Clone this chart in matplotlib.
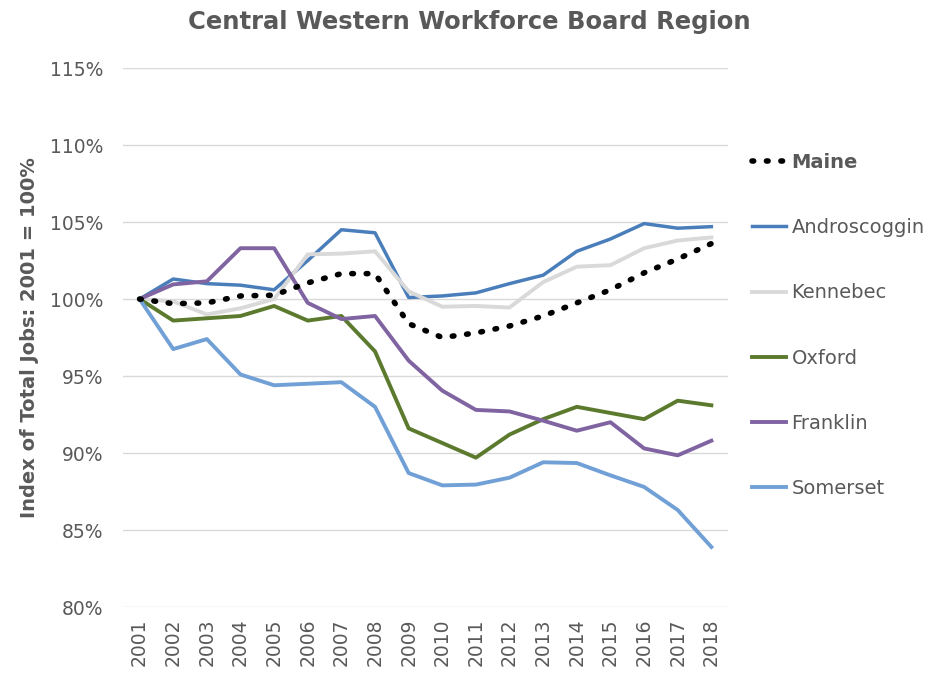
import matplotlib.pyplot as plt
from matplotlib.ticker import FuncFormatter

# Chỉ số tổng việc làm, 2001 = 100%
years = [str(y) for y in range(2001, 2019)]
maine = [100.0, 99.7, 99.75, 100.2, 100.25, 101.05, 101.65, 101.65, 98.4,
         97.5, 97.8, 98.25, 98.9, 99.75, 100.6, 101.7, 102.6, 103.6]
androscoggin = [100.0, 101.3, 101.0, 100.9, 100.6, 102.5, 104.5, 104.3, 100.1,
                100.2, 100.4, 101.0, 101.55, 103.1, 103.9, 104.9, 104.6, 104.7]
kennebec = [100.0, 99.85, 99.0, 99.4, 100.0, 102.9, 102.95, 103.1, 100.5,
            99.5, 99.55, 99.45, 101.1, 102.1, 102.2, 103.3, 103.8, 104.0]
oxford = [100.0, 98.6, 98.75, 98.9, 99.55, 98.6, 98.9, 96.6, 91.6,
          90.65, 89.7, 91.2, 92.2, 93.0, 92.6, 92.2, 93.4, 93.1]
franklin = [100.0, 100.95, 101.15, 103.3, 103.3, 99.75, 98.7, 98.9, 96.0,
            94.05, 92.8, 92.7, 92.1, 91.45, 92.0, 90.3, 89.85, 90.8]
somerset = [100.0, 96.75, 97.4, 95.1, 94.4, 94.5, 94.6, 93.0, 88.7,
            87.9, 87.95, 88.4, 89.4, 89.35, 88.55, 87.8, 86.3, 83.9]

gray = '#595959'
plt.rcParams['font.family'] = ['DejaVu Sans']

fig = plt.figure(figsize=(9.3, 6.75), dpi=100)
ax = fig.add_axes([0.132, 0.1007, 0.651, 0.7985])

x = list(range(len(years)))
ax.plot(x, maine, color='black', lw=4, linestyle=(0, (0.3, 2.3)),
        dash_capstyle='round', label='Maine', zorder=6)
ax.plot(x, androscoggin, color='#4A7EBB', lw=2.5, label='Androscoggin')
ax.plot(x, kennebec, color='#D9D9D9', lw=2.8, label='Kennebec')
ax.plot(x, oxford, color='#5B7A2E', lw=2.8, label='Oxford')
ax.plot(x, franklin, color='#8064A2', lw=2.8, label='Franklin')
ax.plot(x, somerset, color='#71A0D6', lw=2.8, label='Somerset')

ax.set_xlim(-0.5, len(years) - 0.5)
ax.set_ylim(80, 115)
ax.set_yticks(range(80, 116, 5))
ax.yaxis.set_major_formatter(FuncFormatter(lambda v, p: f'{v:.0f}%'))
ax.set_xticks(x)
ax.set_xticklabels(years, rotation=90)
ax.tick_params(axis='both', length=0, labelsize=13.5, labelcolor=gray)
ax.tick_params(axis='y', pad=14)
ax.tick_params(axis='x', pad=8)
ax.grid(axis='y', color='#D9D9D9', lw=1)
ax.set_axisbelow(True)
for s in ax.spines.values():
    s.set_visible(False)

ax.set_ylabel('Index of Total Jobs: 2001 = 100%', fontsize=14, fontweight='bold',
              color=gray, labelpad=8)
fig.suptitle('Central Western Workforce Board Region', fontsize=17.5, fontweight='bold',
             color=gray, x=0.505, y=0.985)

leg = ax.legend(loc='upper left', bbox_to_anchor=(1.01, 0.875), frameon=False,
                fontsize=14, labelspacing=2.38, handlelength=1.75, handletextpad=0.3)
for t in leg.get_texts():
    t.set_color(gray)
leg.get_texts()[0].set_fontweight('bold')

fig.savefig('out.png', dpi=100)
